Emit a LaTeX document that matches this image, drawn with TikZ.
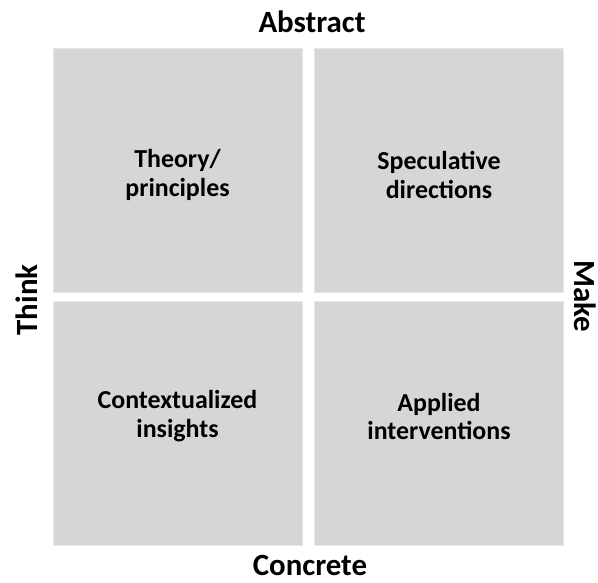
\documentclass[tikz,border=0pt]{standalone}
\usepackage{fontspec}
\setmainfont{Carlito}
\usetikzlibrary{positioning}
\definecolor{quadGray}{RGB}{214,214,214}

\begin{document}
\begin{tikzpicture}[x=1bp, y=-1bp,
    quad/.style={fill=quadGray, draw=quadGray!60!white, line width=0.5bp,
                 minimum width=249bp, minimum height=244bp, inner sep=0pt},
    quadtext/.style={align=center, inner sep=0pt,
                     font=\fontsize{26}{29}\selectfont\bfseries},
    axislabel/.style={inner sep=0pt, font=\fontsize{31}{34}\selectfont\bfseries}]
  \useasboundingbox (0,0) rectangle (598,583);
  % quadrants
  \node[quad] (theory) at (177.5,170) {};
  \node[quad, right=12bp of theory] (spec) {};
  \node[quad, below=9bp of theory] (context) {};
  \node[quad, below=9bp of spec] (applied) {};
  \node[quadtext] (theorytext) at ([yshift=-5bp]theory.center) {Theory/\\principles};
  \node[quadtext] (spectext) at ([yshift=-5bp]spec.center) {Speculative\\directions};
  \node[quadtext] (contexttext) at ([yshift=7bp]context.center) {Contextualized\\insights};
  \node[quadtext] (appliedtext) at ([yshift=7bp]applied.center) {Applied\\interventions};
  % axes
  \node[axislabel, anchor=base] (abstract) at (312,33) {Abstract};
  \node[axislabel, anchor=base] (concrete) at (310,575) {Concrete};
  \node[axislabel, rotate=90] (think) at (27,300) {Think};
  \node[axislabel, rotate=-90] (make) at (585,296) {Make};
\end{tikzpicture}
\end{document}
